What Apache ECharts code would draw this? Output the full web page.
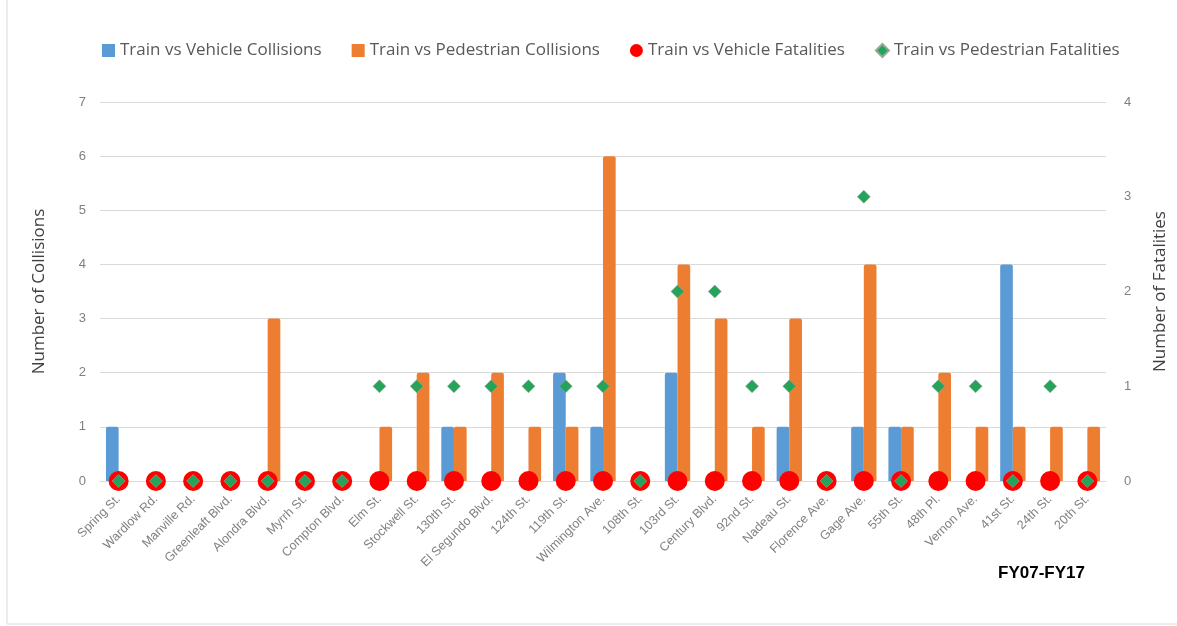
<!DOCTYPE html>
<html>
<head>
<meta charset="utf-8">
<script src="https://cdn.jsdelivr.net/npm/echarts@6/dist/echarts.min.js"></script>
<style>
html,body{margin:0;padding:0;background:#fff;}
#main{width:1177px;height:626px;}
</style>
</head>
<body>
<div id="main"></div>
<script>
var stations = ['Spring St.','Wardlow Rd.','Manville Rd.','Greenleaft Blvd.','Alondra Blvd.','Myrrh St.','Compton Blvd.','Elm St.','Stockwell St.','130th St.','El Segundo Blvd.','124th St.','119th St.','Wilmington Ave.','108th St.','103rd St.','Century Blvd.','92nd St.','Nadeau St.','Florence Ave.','Gage Ave.','55th St.','48th Pl.','Vernon Ave.','41st St.','24th St.','20th St.'];
var vehicleCollisions = [1,0,0,0,0,0,0,0,0,1,0,0,2,1,0,2,0,0,1,0,1,1,0,0,4,0,0];
var pedCollisions = [0,0,0,0,3,0,0,1,2,1,2,1,1,6,0,4,3,1,3,0,4,1,2,1,1,1,1];
var vehicleFatalities = [0,0,0,0,0,0,0,0,0,0,0,0,0,0,0,0,0,0,0,0,0,0,0,0,0,0,0];
var pedFatalities = [0,0,0,0,0,0,0,1,1,1,1,1,1,1,0,2,2,1,1,0,3,0,1,1,0,1,0];
var leftTicks = [0, 7, 1];
var rightTicks = [0, 4, 1];

var font = 'Liberation Sans';
var font2 = 'Open Sans';
var option = {
    backgroundColor: '#fff',
    textStyle: { fontFamily: font },
    legend: {
        top: 37,
        left: 97,
        itemWidth: 13,
        itemHeight: 13,
        itemGap: 30,
        textStyle: { fontSize: 17, color: '#595959', fontFamily: font2 },
        data: [
            { name: 'Train vs Vehicle Collisions', icon: 'rect' },
            { name: 'Train vs Pedestrian Collisions', icon: 'rect' },
            { name: 'Train vs Vehicle Fatalities', icon: 'circle' },
            { name: 'Train vs Pedestrian Fatalities', icon: 'diamond' }
        ]
    },
    grid: { left: 100, right: 71, top: 102, bottom: 145 },
    xAxis: {
        type: 'category',
        data: stations,
        axisTick: { show: false },
        axisLine: { lineStyle: { color: '#d9d9d9' } },
        axisLabel: { rotate: 45, color: '#808080', fontSize: 12.5, interval: 0, margin: 16 }
    },
    yAxis: [{
        type: 'value',
        min: leftTicks[0], max: leftTicks[1], interval: leftTicks[2],
        name: 'Number of Collisions',
        nameLocation: 'middle',
        nameGap: 52,
        nameTextStyle: { fontSize: 17, color: '#404040', fontFamily: font2 },
        axisLabel: { color: '#808080', fontSize: 13, margin: 14 },
        splitLine: { lineStyle: { color: '#d9d9d9' } }
    }, {
        type: 'value',
        min: rightTicks[0], max: rightTicks[1], interval: rightTicks[2],
        name: 'Number of Fatalities',
        nameLocation: 'middle',
        nameGap: 46,
        nameRotate: 90,
        nameTextStyle: { fontSize: 17, color: '#404040', fontFamily: font2 },
        axisLabel: { color: '#808080', fontSize: 13, margin: 18 },
        splitLine: { show: false }
    }],
    series: [{
        name: 'Train vs Vehicle Collisions',
        type: 'bar',
        data: vehicleCollisions,
        barGap: '0%',
        barCategoryGap: '32%',
        itemStyle: { color: '#5b9bd5', borderRadius: [2,2,0,0] }
    }, {
        name: 'Train vs Pedestrian Collisions',
        type: 'bar',
        data: pedCollisions,
        itemStyle: { color: '#ed7d31', borderRadius: [2,2,0,0] }
    }, {
        name: 'Train vs Vehicle Fatalities',
        type: 'scatter',
        yAxisIndex: 1,
        data: vehicleFatalities,
        symbol: 'circle',
        symbolSize: 20,
        z: 3,
        itemStyle: { color: '#ff0000', opacity: 1 }
    }, {
        name: 'Train vs Pedestrian Fatalities',
        type: 'scatter',
        yAxisIndex: 1,
        data: pedFatalities,
        symbol: 'diamond',
        symbolSize: 13,
        z: 4,
        itemStyle: { color: '#23a45a', borderColor: '#9aa59a', borderWidth: 0.6, opacity: 1 }
    }],
    graphic: [{
        type: 'rect',
        shape: { x: 7, y: -5, width: 1200, height: 629 },
        style: { fill: 'none', stroke: '#d9d9d9', lineWidth: 1 },
        silent: true
    }, {
        type: 'text',
        left: 998,
        top: 565,
        style: { text: 'FY07-FY17', font: 'bold 17px ' + font, fill: '#000' }
    }]
};
echarts.init(document.getElementById('main')).setOption(option);
</script>
</body>
</html>
